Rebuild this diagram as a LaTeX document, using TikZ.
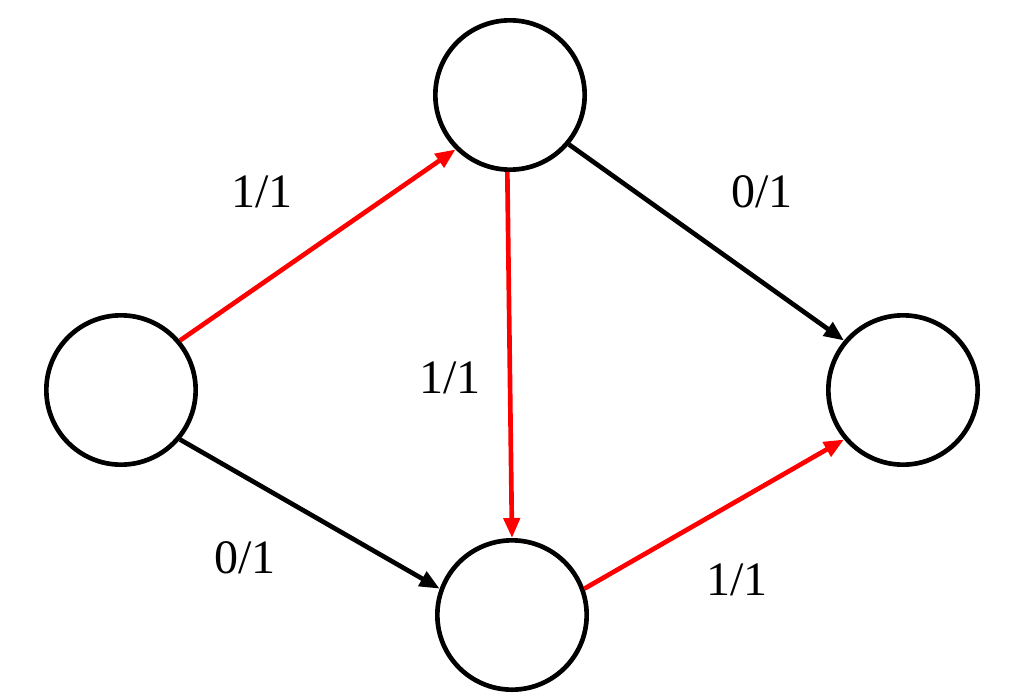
\documentclass[tikz,border=0pt]{standalone}
\usepackage{fontspec}
\setmainfont{Liberation Serif}
\usetikzlibrary{arrows.meta}
\begin{document}
\begin{tikzpicture}[x=0.75pt,y=-0.75pt,
  vert/.style={circle,draw=black,line width=3.5pt,minimum size=112pt,inner sep=0pt},
  edge/.style={line width=3.5pt,-{Triangle[length=15pt,width=12pt]}},
  lab/.style={font=\fontsize{36}{38}\selectfont}]
\useasboundingbox (0,0) rectangle (1023,695);
\node[vert] (s) at (121,390) {};
\node[vert] (a) at (510,95) {};
\node[vert] (b) at (512,615) {};
\node[vert] (t) at (903,390) {};
\draw[edge,red] (s.40) -- (a.225);
\draw[edge] (s.-40) -- (b.160);
\draw[edge,red] (a.-92) -- (b.90);
\draw[edge] (a.-40) -- (t.140);
\draw[edge,red] (b.20) -- (t.220);
\node[lab] (l1) at (262,192) {1/1};
\node[lab] (l2) at (762,192) {0/1};
\node[lab] (l3) at (450,378) {1/1};
\node[lab] (l4) at (245,558) {0/1};
\node[lab] (l5) at (737,580) {1/1};
\end{tikzpicture}
\end{document}
